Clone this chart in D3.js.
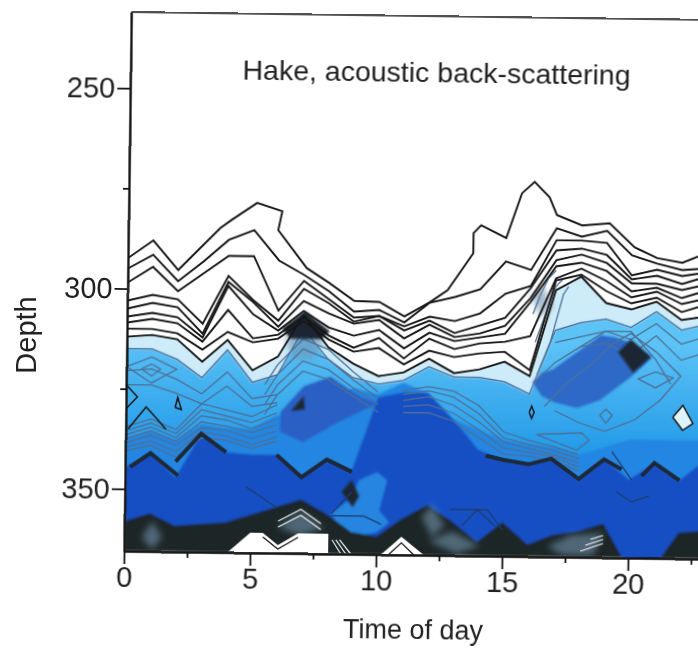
<!DOCTYPE html>
<html>
<head>
<meta charset="utf-8">
<script src="https://cdn.jsdelivr.net/npm/d3@7"></script>
<style>
    html, body { margin: 0; padding: 0; background: #fff; }
    text { font-family: "Liberation Sans", Arial, sans-serif; fill: #222; }
</style>
</head>
<body>
<div id="chart"></div>
<script>
const hours = d3.range(0, 24)
const depthTicks = [250, 300, 350]
const depthMinorTicks = [275, 325]
const timeTicks = [0, 5, 10, 15, 20]
const timeMinorTicks = [2.5, 7.5, 12.5, 17.5, 22.5]

// outermost contour doubles back on itself, so it keeps its own hours
const contourTopHours = [0, 1, 2, 3.65, 4.1, 5.1, 6.1, 5.95, 7.1, 8, 9, 10, 11, 12, 12.7, 13.7, 13.7, 14, 15, 15.6, 16.1, 16.7, 17, 18, 19.1, 20.1, 21, 22, 22.8, 23]
const contourTop = [292.4, 287.9, 295.2, 284.6, 282.5, 278.2, 280.2, 284.9, 294.3, 297.9, 302.3, 302.5, 306, 302.4, 299.3, 290, 285, 283, 286.1, 274.9, 272, 275.8, 280.2, 282.7, 282.1, 288, 290.6, 291.7, 289.6, 289]

// black contours, depth per hour
const contour2 = [295, 291.5, 298, 293, 287.5, 285, 292.5, 296, 300, 305, 304.5, 307.5, 302.5, 301, 299, 292, 294, 283.5, 285.5, 284, 290, 292, 293.5, 293]
const contour3 = [298.5, 294.5, 300.5, 296, 291.5, 291.5, 305, 297.5, 302, 306.5, 306, 308.5, 306, 307, 305, 300, 298, 286.5, 286.5, 287, 295, 293.5, 295, 294]
const contour4 = [303, 301.5, 302.5, 308.5, 296.5, 302.5, 307.5, 299.5, 303, 307.5, 306, 309.5, 307, 310, 308, 306, 298.5, 289, 288.5, 290, 296, 295, 297, 295]
const contour5 = [305, 303.5, 304.5, 311, 298, 303, 309, 302.5, 305.5, 308, 307, 311.5, 308, 311, 310, 308, 301, 291.5, 290, 292, 297, 297, 298.5, 297]
const contour6 = [307, 306, 307, 312, 299, 306, 310, 305, 309, 311, 309.5, 314, 310, 312, 311, 310, 302, 293, 292, 294, 299, 298, 300.5, 298.5]
const contour7 = [308.5, 307.5, 308.5, 313, 305, 312, 311, 306.5, 311, 314, 311.5, 316.5, 311.5, 314, 312.5, 312, 310.5, 296, 293.5, 296.5, 300.5, 299, 302, 300.5]
const contour8 = [310, 310, 311, 315, 310.5, 313, 312, 307.5, 312, 315, 314, 318, 314.5, 316, 315, 314.5, 319, 296.5, 295, 299, 302, 300.5, 304, 302]
const paleTop = [312, 311.5, 312.5, 318, 312.5, 320, 316.5, 306, 314, 318, 321, 320, 316.5, 320, 319, 317, 320.5, 299, 295.5, 302, 303.5, 301.5, 306, 305]

// colour band edges, depth per hour
const cyanTop = [315, 315, 317.5, 322, 315, 323, 321, 309.5, 317, 321.5, 323, 322, 318.5, 321, 321, 322, 325, 309, 307, 306, 308, 304, 308.5, 307]
const midTop = [337.5, 335.5, 337.5, 333.5, 334.5, 334.5, 331, 333, 327, 324, 325.5, 322.5, 325, 331.5, 334, 336.5, 337.5, 338, 340, 338, 336, 336, 336, 336]
const darkTop = [344.5, 341, 347, 336, 340.5, 341, 341, 346.5, 342, 344.5, 326.25, 325, 325, 331.5, 339, 341.5, 342.5, 341, 346, 341, 346, 341.75, 346, 341]
const blackTop = [358, 356, 359, 358.5, 358, 356, 354, 352, 355.5, 360, 361, 356.5, 353, 357, 362, 357, 362.5, 360, 359, 357, 368, 368, 359, 358.5]

// blue patches
const patchRightHours = [16.9, 18.8, 19.4, 20.1, 20.85, 20, 18.8, 17.9, 17, 16.5, 16.1, 16.5]
const patchRightDepths = [318.8, 310, 310.5, 312, 315.5, 320.5, 326.3, 328.3, 327, 325.5, 322, 319.5]
const patchCentreHours = [6.13, 7.04, 8.1, 9.3, 10, 8.4, 7.04, 6.13]
const patchCentreDepths = [330.25, 323.75, 321.25, 326.25, 327.75, 332.75, 337.75, 335.25]
const patchLowHours = [8.2, 8.9, 9.3, 10, 10.4, 10.1, 10.5, 10, 9.2, 8.6]
const patchLowDepths = [355.5, 352, 347, 345, 347, 354.5, 357.5, 360, 361, 359.5]

// near black patches
const blotches = [
    { hours: [6.15, 7.05, 8.05, 7.7, 6.5], depths: [309.5, 305, 310, 312, 312] },
    { hours: [19.5, 20, 20.8, 20.1], depths: [314.25, 311, 315.25, 319.25] },
    { hours: [6.55, 7.05, 7.1], depths: [330, 326.25, 329.5] },
    { hours: [8.6, 9, 9.3, 9.05], depths: [350, 347, 351, 353.75] }
]
// dark ridges along the dark band edge
const ridges = [
    { hours: [0.2, 1, 2.1], depths: [344.5, 341, 346.5] },
    { hours: [2, 3, 4], depths: [343, 336, 340.5] },
    { hours: [6, 7, 8, 9], depths: [341, 346.5, 342, 345] },
    { hours: [14.3, 15, 16, 16.9, 18, 19, 19.7], depths: [340.5, 341.5, 342.5, 341, 346, 341, 343.5] },
    { hours: [20.5, 21, 22], depths: [345, 341.75, 346] }
]
// grey blue contours inside the blue
const innerLines = [
    { hours: [0, 1, 2, 3, 4, 5, 6], depths: [334.5, 332.5, 335, 328.5, 330, 331.5, 328.5] },
    { hours: [0, 1, 2, 3, 4, 5, 6], depths: [335.5, 333.5, 336, 330, 331.5, 333, 330.5] },
    { hours: [0, 1, 2, 3, 4, 5, 6], depths: [336.5, 334.5, 337, 331.5, 332.5, 334.5, 332] },
    { hours: [0, 1, 2, 3, 4, 5, 6], depths: [337.5, 335.5, 338, 333, 334, 335.5, 333.5] },
    { hours: [0, 1, 2, 3, 4, 5, 6], depths: [338.5, 336.5, 339, 334.5, 335, 337, 335] },
    { hours: [0, 1, 2, 3, 4, 5, 6], depths: [339.5, 338, 340.5, 335.5, 336.5, 338.5, 336.5] },
    { hours: [0, 1, 2, 3, 4, 5, 6], depths: [340.5, 339, 342, 337, 337.5, 339.5, 337.5] },
    { hours: [0, 1, 2, 3, 4, 5, 6], depths: [320.5, 320, 322.5, 326, 320.5, 327, 326] },
    { hours: [0, 1, 2, 3, 4, 5, 6], depths: [324, 324, 326, 328.5, 324, 329, 328] },
    { hours: [0.6, 1, 1.35, 1, 0.6], depths: [320, 318.75, 320, 321.75, 320] },
    { hours: [0, 1, 2, 1, 0], depths: [319.5, 317, 320, 323.5, 319.5] },
    { hours: [11, 12, 13, 14, 15, 16, 17, 18], depths: [324.5, 323.5, 324.5, 328, 334.5, 336.5, 338, 340] },
    { hours: [11, 12, 13, 14, 15, 16, 17, 18], depths: [325.5, 324.5, 326, 330, 336, 337.5, 339, 341] },
    { hours: [11, 12, 13, 14, 15, 16, 17, 18], depths: [327, 326, 328, 332, 337, 338.5, 340, 342] },
    { hours: [11, 12, 13, 14, 15, 16, 17, 18], depths: [328.5, 328, 330, 334, 338.5, 339.5, 340.5, 343] },
    { hours: [11, 12, 13, 14, 15, 16, 17, 18], depths: [330, 330, 332, 336, 340, 340.5, 341.5, 344] },
    { hours: [17, 18, 19, 20, 21, 22, 23], depths: [312, 310.5, 309, 311, 307, 312, 310] },
    { hours: [18, 19, 20, 21, 22, 23], depths: [313, 312, 315, 310, 316, 314] },
    { hours: [5.5, 6, 7, 8, 9, 10], depths: [323.5, 318.5, 312, 314.5, 320, 325] },
    { hours: [5.5, 6, 7, 8, 9, 10], depths: [326, 321, 314.5, 317, 322, 326.5] },
    { hours: [5.5, 6, 7, 8, 9, 10], depths: [328.5, 323.5, 317.5, 319.5, 324, 328] },
    { hours: [5.5, 6, 7, 8, 9, 10], depths: [331, 326, 320, 322, 326, 330] },
    { hours: [16.2, 17, 18, 19, 20, 21, 21.6], depths: [322, 317, 313, 309, 309, 316, 322] },
    { hours: [16.6, 17.5, 18.5, 19.3, 20, 21, 22, 21.2, 20.2, 19, 18, 17], depths: [328, 322, 317, 312, 309.5, 314, 320, 326, 331, 334, 332, 329] },
    { hours: [20.3, 21, 21.7, 21, 20.3], depths: [320.8, 319, 320.5, 323, 320.8] },
    { hours: [16.3, 18.1, 18.4, 17.9, 16.3], depths: [335, 334.5, 336.3, 338.8, 335] },
    { hours: [18.8, 19.05, 19.3, 19.05, 18.8], depths: [330, 328.5, 330, 332, 330] },
    { hours: [16.1, 16.4, 16.7, 17], depths: [305, 300, 296, 294] },
    { hours: [16.2, 16.6, 17, 17.3], depths: [312, 305, 298, 296] },
    { hours: [16.3, 16.8, 17.3, 17.5], depths: [320, 312, 300, 298] }
]
// small black rings and marks in the cyan
const blackMarks = [
    { hours: [21.7, 22.1, 22.5, 22.1, 21.7], depths: [330.25, 327.25, 331.75, 333.5, 330.25] },
    { hours: [0, 0.45, 0], depths: [324, 327, 330] },
    { hours: [0.1, 0.8, 1.1, 1.6], depths: [335, 329.5, 331.5, 335] },
    { hours: [1.95, 2.05, 2.2, 1.95], depths: [329.5, 327, 330, 329.5] },
    { hours: [16, 16.1, 16.2, 16.1, 16], depths: [329.5, 328, 329.5, 331, 329.5] }
]
// thin dark strokes across the dark band
const thinLines = [
    { hours: [4.8, 6], depths: [349, 354] },
    { hours: [8.2, 9], depths: [355.5, 350] },
    { hours: [8.2, 9.5, 10.2], depths: [356, 356, 358] },
    { hours: [19.5, 20.1, 20.8], depths: [349, 351.5, 350] },
    { hours: [12.9, 14.4, 15], depths: [354, 354, 359] },
    { hours: [13.4, 14, 14.7], depths: [358, 354, 358] },
    { hours: [19.3, 20.1], depths: [339, 346] }
]
// grey blue haze patches
const hazes = [
    { hours: [0.7, 1.1, 1.5, 1.1], depths: [362, 358, 362, 365] },
    { hours: [6.1, 7, 7.9, 7], depths: [359, 355, 359, 361] },
    { hours: [11.8, 12.2, 12.7, 12.2], depths: [356, 353, 358, 361] },
    { hours: [12.1, 13, 14.1, 13.2], depths: [362, 359.5, 363, 365] },
    { hours: [16.8, 17.7, 19, 18.6, 17.4], depths: [363, 360, 359.5, 365, 365] },
    { hours: [16, 16.5, 16.9, 16.4], depths: [300, 298, 303, 306] },
    { hours: [6.2, 7.9, 7.4, 6.6], depths: [311, 311, 317, 317] }
]
// white gaps along the bottom edge
const gaps = [
    { hours: [4.1, 5, 5.5, 6.1, 6.9, 8.1, 8.1], depths: [365.5, 360.5, 360.5, 363.5, 360.5, 360.5, 365.5] },
    { hours: [10.2, 11, 11.9], depths: [365.5, 361, 365.5] }
]
const gapLines = [
    { hours: [10.5, 11, 11.5], depths: [365.5, 362.5, 365.5] },
    { hours: [5.5, 6.1, 6.9], depths: [361.5, 364.5, 361.5] },
    { hours: [6.1, 7, 7.8], depths: [357.5, 354.5, 358] },
    { hours: [6.1, 7, 7.8], depths: [359, 356, 359.5] },
    { hours: [8.25, 8.6], depths: [362, 365.5] },
    { hours: [8.4, 8.8], depths: [362, 365.5] },
    { hours: [8.55, 9], depths: [362, 365.5] },
    { hours: [18.1, 19], depths: [364, 362] },
    { hours: [18.3, 19], depths: [362.5, 361] },
    { hours: [18.5, 19], depths: [361, 360] }
]

const width = 698
const height = 648
const svg = d3.select('#chart').append('svg')
    .attr('width', width)
    .attr('height', height)
    .style('display', 'block')

const defs = svg.append('defs')
defs.append('filter').attr('id', 'soft').attr('x', '-5%').attr('y', '-5%').attr('width', '110%').attr('height', '110%')
    .append('feGaussianBlur').attr('stdDeviation', 1.3)
defs.append('filter').attr('id', 'softer').attr('x', '-30%').attr('y', '-30%').attr('width', '160%').attr('height', '160%')
    .append('feGaussianBlur').attr('stdDeviation', 3)

// the scanned page sits slightly crooked
const page = svg.append('g').attr('transform', 'rotate(0.78,124,551)')

const x = d3.scaleLinear().domain([0, 25]).range([124, 754])
const y = d3.scaleLinear().domain([231, 365.5]).range([12, 551])

const cyanFade = defs.append('linearGradient').attr('id', 'cyan-fade')
    .attr('gradientUnits', 'userSpaceOnUse')
    .attr('x1', 0).attr('x2', 0)
    .attr('y1', y(312)).attr('y2', y(340))
cyanFade.append('stop').attr('offset', 0).attr('stop-color', '#5cc3f6')
cyanFade.append('stop').attr('offset', 1).attr('stop-color', '#2299e8')

defs.append('clipPath').attr('id', 'plot-clip').append('rect')
    .attr('x', x(0)).attr('y', y(231))
    .attr('width', x(25) - x(0)).attr('height', y(365.5) - y(231))

const plot = page.append('g').attr('clip-path', 'url(#plot-clip)')

const bandArea = d3.area()
    .x((d, i) => x(hours[i]))
    .y0(y(365.5))
    .y1(d => y(d))

const pathOf = (hs, ds) => d3.line()(hs.map((h, i) => [x(h), y(ds[i])]))
const closedOf = (hs, ds) => pathOf(hs, ds) + 'Z'

const fills = plot.append('g').attr('filter', 'url(#soft)')
fills.append('path').attr('d', bandArea(paleTop)).attr('fill', '#cdebf9')
fills.append('path').attr('d', bandArea(cyanTop)).attr('fill', 'url(#cyan-fade)')
fills.append('path').attr('d', bandArea(midTop)).attr('fill', '#2486e2')
fills.append('path').attr('d', bandArea(darkTop)).attr('fill', '#1650c4')
fills.append('path').attr('d', closedOf(patchRightHours, patchRightDepths)).attr('fill', '#2d69c8')
fills.append('path').attr('d', closedOf(patchCentreHours, patchCentreDepths)).attr('fill', '#2a5ec4')
fills.append('path').attr('d', closedOf(patchLowHours, patchLowDepths)).attr('fill', '#2585e0')
fills.append('path').attr('d', bandArea(blackTop)).attr('fill', '#1f2528')

plot.append('g').attr('filter', 'url(#softer)')
    .selectAll('path').data(hazes).join('path')
    .attr('d', d => closedOf(d.hours, d.depths))
    .attr('fill', '#6f92ad')
    .attr('opacity', 0.6)

plot.append('g').selectAll('path').data(innerLines).join('path')
    .attr('d', d => pathOf(d.hours, d.depths))
    .attr('fill', 'none')
    .attr('stroke', '#4d6f96')
    .attr('stroke-width', 1.3)

// band edges keep a grey blue line in the cyan
plot.append('path')
    .attr('d', pathOf(hours, cyanTop))
    .attr('fill', 'none').attr('stroke', '#4d6f96').attr('stroke-width', 1.3)

plot.append('g').attr('filter', 'url(#soft)')
    .selectAll('path').data(blotches).join('path')
    .attr('d', d => closedOf(d.hours, d.depths))
    .attr('fill', '#1e2630')

plot.append('g').selectAll('path').data(ridges).join('path')
    .attr('d', d => pathOf(d.hours, d.depths))
    .attr('fill', 'none')
    .attr('stroke', '#1d2838')
    .attr('stroke-width', 4)

plot.append('g').selectAll('path').data(thinLines).join('path')
    .attr('d', d => pathOf(d.hours, d.depths))
    .attr('fill', 'none')
    .attr('stroke', '#1d3a6a')
    .attr('stroke-width', 1.2)

const blackLines = [contour2, contour3, contour4, contour5, contour6, contour7, contour8, paleTop]
plot.append('g').selectAll('path').data(blackLines).join('path')
    .attr('d', d => pathOf(hours, d))
    .attr('fill', 'none')
    .attr('stroke', '#161616')
    .attr('stroke-width', 1.9)

plot.append('path')
    .attr('d', pathOf(contourTopHours, contourTop))
    .attr('fill', 'none')
    .attr('stroke', '#161616')
    .attr('stroke-width', 1.9)

plot.append('g').selectAll('path').data(blackMarks).join('path')
    .attr('d', d => pathOf(d.hours, d.depths))
    .attr('fill', (d, i) => i === 0 ? '#dff3fb' : 'none')
    .attr('stroke', '#161616')
    .attr('stroke-width', 1.5)

plot.append('g').selectAll('path').data(gaps).join('path')
    .attr('d', d => closedOf(d.hours, d.depths))
    .attr('fill', '#fff')

plot.append('g').selectAll('path').data(gapLines).join('path')
    .attr('d', d => pathOf(d.hours, d.depths))
    .attr('fill', 'none')
    .attr('stroke', (d, i) => i < 2 ? '#111' : '#e8eef2')
    .attr('stroke-width', 1.2)

// axes
const xAxis = page.append('g')
    .attr('transform', `translate(0,${y(365.5)})`)
    .call(d3.axisBottom(x).tickValues(timeTicks).tickFormat(d3.format('d')).tickSize(13).tickSizeOuter(0))
const xMinor = page.append('g')
    .attr('transform', `translate(0,${y(365.5)})`)
    .call(d3.axisBottom(x).tickValues(timeMinorTicks).tickFormat('').tickSize(6).tickSizeOuter(0))
const yAxis = page.append('g')
    .attr('transform', `translate(${x(0)},0)`)
    .call(d3.axisLeft(y).tickValues(depthTicks).tickFormat(d3.format('d')).tickSize(13).tickSizeOuter(0))
const yMinor = page.append('g')
    .attr('transform', `translate(${x(0)},0)`)
    .call(d3.axisLeft(y).tickValues(depthMinorTicks).tickFormat('').tickSize(6).tickSizeOuter(0))

for (const axis of [xAxis, xMinor, yAxis, yMinor]) {
    axis.selectAll('line').attr('stroke', '#161616').attr('stroke-width', 1.8)
    axis.select('.domain').attr('stroke', '#161616').attr('stroke-width', 1.8)
    axis.selectAll('text').attr('font-size', 29).attr('fill', '#222')
}
xAxis.selectAll('text').attr('dy', '0.72em').attr('y', 15)
yAxis.selectAll('text').attr('x', -15)

// top border
page.append('line')
    .attr('x1', x(0)).attr('x2', x(25))
    .attr('y1', y(231)).attr('y2', y(231))
    .attr('stroke', '#161616').attr('stroke-width', 1.4)

page.append('text')
    .attr('x', 430).attr('y', 78)
    .attr('text-anchor', 'middle')
    .attr('font-size', 28.5)
    .text('Hake, acoustic back-scattering')

page.append('text')
    .attr('x', 414).attr('y', 635)
    .attr('text-anchor', 'middle')
    .attr('font-size', 27)
    .text('Time of day')

svg.append('text')
    .attr('transform', 'translate(36,335) rotate(-90)')
    .attr('text-anchor', 'middle')
    .attr('font-size', 29)
    .text('Depth')
</script>
</body>
</html>
